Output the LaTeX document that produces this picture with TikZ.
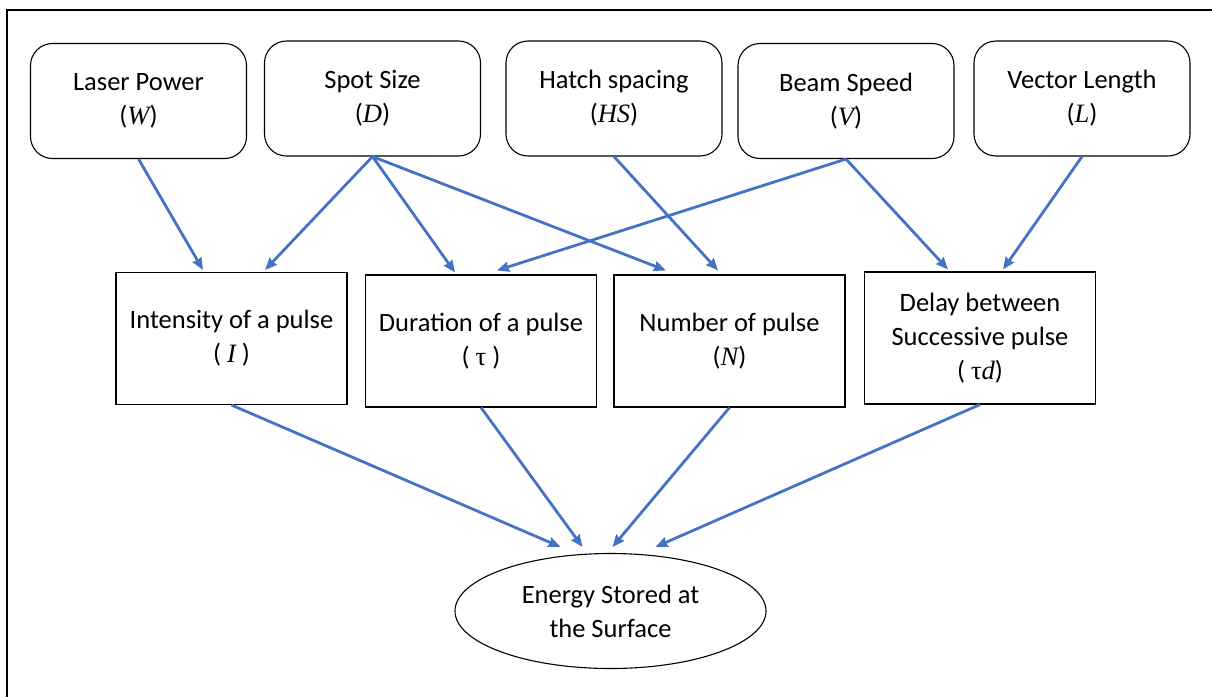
\documentclass[tikz,border=0pt]{standalone}
\usepackage{fontspec}
\setmainfont{Carlito}
\newfontfamily\varf{Liberation Serif}
\usetikzlibrary{arrows.meta,shapes.geometric}
\newcommand{\vv}[1]{{\varf\itshape #1}}
\newcommand{\vt}{{\varf τ}}
\begin{document}
\begin{tikzpicture}[x=1pt,y=-1pt,
  every node/.style={font=\fontsize{26.5}{34}\selectfont, align=center, inner sep=0pt},
  topbox/.style={draw=black, line width=1.1pt, rounded corners=22pt, minimum width=216pt, minimum height=115pt},
  midbox/.style={draw=black, line width=1.1pt, minimum width=231pt, minimum height=132pt},
  conn/.style={draw={rgb,255:red,68;green,114;blue,196}, line width=2.8pt, -{Stealth[length=12pt,width=10pt,inset=1pt]}}
]
\useasboundingbox (0,0) rectangle (1212,697);
\coordinate (fbl) at (7,697);
\coordinate (ftl) at (7,10);
\coordinate (ftr) at (1212,10);
\draw[line width=2pt] (fbl) -- (ftl) -- (ftr);

\node[topbox] (lp) at (138.5,101) {Laser Power\\(\vv{W})};
\node[topbox] (sp) at (372.5,98.5) {Spot Size\\(\vv{D})};
\node[topbox] (hs) at (614,98.5) {Hatch spacing\\(\vv{HS})};
\node[topbox] (bs) at (846,101) {Beam Speed\\(\vv{V})};
\node[topbox] (vl) at (1082,98.5) {Vector Length\\(\vv{L})};

\node[midbox] (int) at (231.5,338.5) {Intensity of a pulse\\( \vv{I} )};
\node[midbox] (dur) at (481,341) {Duration of a pulse\\( \vt{} )};
\node[midbox] (num) at (729.5,341) {Number of pulse\\(\vv{N})};
\node[midbox] (del) at (980,338) {Delay between\\Successive pulse\\( \vt\vv{d})};

\node[draw=black, line width=1.1pt, ellipse, minimum width=311pt, minimum height=115pt] (ell) at (610.5,611) {Energy Stored at\\the Surface};

\draw[conn] (lp.south) -- ([xshift=-28.5pt,yshift=2pt]int.north);
\draw[conn] (sp.south) -- ([xshift=33.5pt,yshift=2pt]int.north);
\draw[conn] (sp.south) -- ([xshift=-26pt,yshift=2pt]dur.north);
\draw[conn] (sp.south) -- ([xshift=-63.5pt,yshift=4pt]num.north);
\draw[conn] (bs.south) -- ([xshift=16pt,yshift=4pt]dur.north);
\draw[conn] (hs.south) -- ([xshift=-11.5pt,yshift=4pt]num.north);
\draw[conn] (bs.south) -- ([xshift=-32pt,yshift=2pt]del.north);
\draw[conn] (vl.south) -- ([xshift=23pt,yshift=2pt]del.north);

\draw[conn] (int.south) -- ([xshift=-50pt,yshift=6pt]ell.north);
\draw[conn] (dur.south) -- ([xshift=-28pt,yshift=6pt]ell.north);
\draw[conn] (num.south) -- ([xshift=2pt,yshift=6pt]ell.north);
\draw[conn] (del.south) -- ([xshift=45pt,yshift=6pt]ell.north);
\end{tikzpicture}
\end{document}
